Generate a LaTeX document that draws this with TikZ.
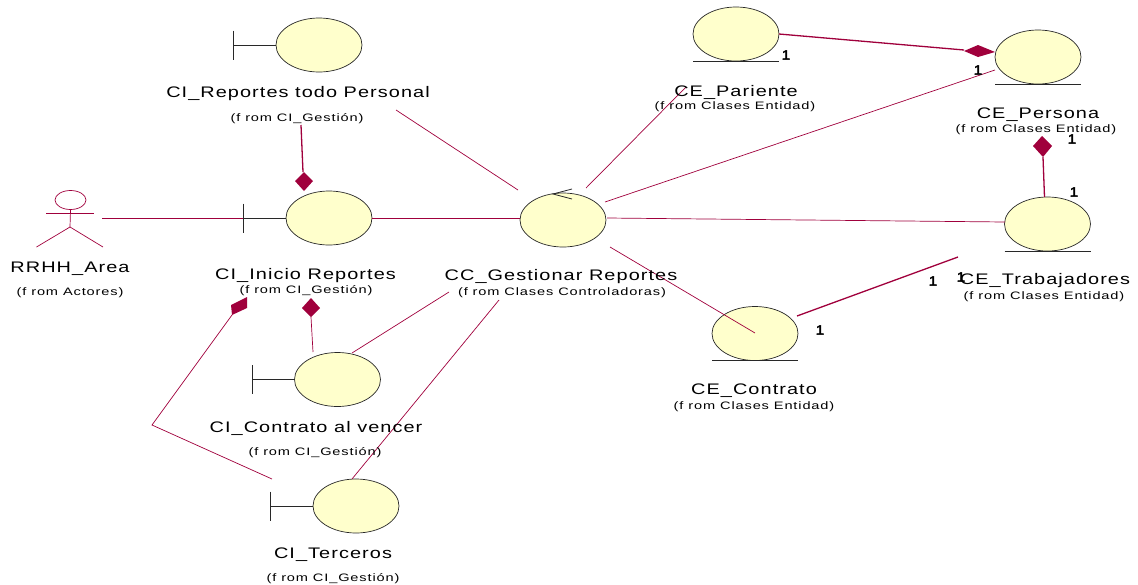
\documentclass[tikz,border=0pt]{standalone}
\usepackage{fontspec}
\usetikzlibrary{shapes.geometric}
\setmainfont{Liberation Sans}
\newfontfamily\namefont{Liberation Sans}[FakeStretch=1.3,LetterSpace=7]
\newfontfamily\fromfont{Liberation Sans}[FakeStretch=1.35,LetterSpace=8]
\newfontfamily\onefont{Liberation Sans}[FakeBold=2.5,FakeStretch=1.15]
\definecolor{umlline}{RGB}{160,0,60}
\definecolor{umlfill}{RGB}{255,255,204}
\definecolor{umledge}{RGB}{40,40,40}
\tikzset{
  x=1pt,y=-1pt,
  ball/.style={ellipse,draw=umledge,fill=umlfill,line width=0.7pt,minimum width=86pt,minimum height=54pt,inner sep=0pt,outer sep=0pt},
  glyph/.style={draw=umledge,line width=0.8pt},
  assoc/.style={draw=umlline,line width=0.7pt},
  heavy/.style={draw=umlline,line width=1.3pt},
  nametext/.style={font=\namefont\fontsize{15.3}{17}\selectfont,text=black,inner sep=0pt,yshift=-1pt},
  fromtext/.style={font=\fromfont\fontsize{10.8}{12}\selectfont,text=black,inner sep=0pt,yshift=-0.5pt},
  multtext/.style={font=\onefont\fontsize{13.5}{15}\selectfont,text=black,inner sep=0pt},
  dia/.style={fill=umlline,draw=none}
}
\begin{document}
\begin{tikzpicture}
\useasboundingbox (0,0) rectangle (1138,584);
% entities and boundaries
\node[ball] (rep) at (319,45) {};
\node[ball] (ini) at (329,218) {};
\node[ball] (con) at (337.5,379.5) {};
\node[ball] (ter) at (356,506) {};
\node[ball] (cc) at (563,220) {};
\node[ball] (par) at (736,34) {};
\node[ball] (per) at (1038,57) {};
\node[ball] (tra) at (1047.5,224) {};
\node[ball] (ctr) at (755,333.5) {};
% boundary glyphs
\coordinate (repb) at (233.5,45);
\coordinate (inib) at (243,218);
\coordinate (conb) at (252,379.5);
\coordinate (terb) at (270,506);
\foreach \b/\e in {repb/rep,inib/ini,conb/con,terb/ter}{
  \draw[glyph] (\b) -- (\e.west);
  \draw[glyph] ([yshift=14.5pt]\b) -- ([yshift=-14.5pt]\b);
}
% entity underlines
\foreach \e in {par,per,tra,ctr}{
  \draw[glyph] ([xshift=-43pt]\e.south) -- ([xshift=43pt]\e.south);
}
% controller arrow
\coordinate (ccarrow) at (553,194);
\draw[glyph] (572,189) -- (ccarrow) -- (572,199);
% actor
\node[draw=umlline,ellipse,line width=0.7pt,minimum width=31pt,minimum height=19pt,inner sep=0pt,outer sep=0pt] (head) at (70.5,200) {};
\coordinate (hip) at (70,227);
\coordinate (armL) at (46,213.5);
\coordinate (armR) at (94,213.5);
\coordinate (legL) at (36.5,247);
\coordinate (legR) at (103,247);
\draw[assoc] (head.south) -- (hip);
\draw[assoc] (armL) -- (armR);
\draw[assoc] (legL) -- (hip) -- (legR);
% free ends of connectors
\coordinate (a1) at (102,218);
\coordinate (r1) at (396,110);
\coordinate (r2) at (518,190);
\coordinate (p1) at (586,188);
\coordinate (p2) at (686,87);
\coordinate (q1) at (605,202);
\coordinate (q2) at (995,70);
\coordinate (t1) at (607,218);
\coordinate (t2) at (1005,222);
\coordinate (c1) at (610,247);
\coordinate (c2) at (755,333);
\coordinate (h1) at (797,316);
\coordinate (h2) at (958,257);
\coordinate (v1) at (352,353);
\coordinate (v2) at (449,292);
\coordinate (w1) at (352,479);
\coordinate (w2) at (499,300);
\coordinate (k1) at (272,479);
\coordinate (k2) at (152,425);
\coordinate (k3) at (232,315);
% associations
\draw[assoc] (a1) -- (inib);
\draw[assoc] (ini.east) -- (cc.west |- ini.east);
\draw[assoc] (r1) -- (r2);
\draw[assoc] (p1) -- (p2);
\draw[assoc] (q1) -- (q2);
\draw[assoc] (t1) -- (t2);
\draw[assoc] (c1) -- (c2);
\draw[heavy] (h1) -- (h2);
\draw[assoc] (v1) -- (v2);
\draw[assoc] (w1) -- (w2);
\draw[assoc] (k1) -- (k2) -- (k3);
% aggregations
\draw[heavy] (301,125) -- (303,172);
\fill[dia] (304,172) -- (313,181) -- (304,191) -- (295,181) -- cycle;
\draw[heavy] (par.east) -- (964,50);
\fill[dia] (964,51) -- (978,45) -- (995,52) -- (978,57) -- cycle;
\draw[heavy] (1044.5,197) -- (1043,157);
\fill[dia] (1042,136) -- (1052,146) -- (1043,157) -- (1033,146) -- cycle;
\draw[assoc] (313,352) -- (311,317);
\fill[dia] (311,298) -- (320,308) -- (311,317) -- (302,308) -- cycle;
\fill[dia] (231,305) -- (247,297) -- (247,308) -- (232,315) -- cycle;
% labels
\node[nametext] (l1) at (298,93) {CI\_Reportes todo Personal};
\node[fromtext] (l2) at (297,118) {(f rom CI\_Gestión)};
\node[nametext] (l3) at (305.5,275) {CI\_Inicio Reportes};
\node[fromtext] (l4) at (306,290) {(f rom CI\_Gestión)};
\node[nametext] (l5) at (70,268) {RRHH\_Area};
\node[fromtext] (l6) at (70,292) {(f rom Actores)};
\node[nametext] (l7) at (561,276) {CC\_Gestionar Reportes};
\node[fromtext] (l8) at (562,292) {(f rom Clases Controladoras)};
\node[nametext] (l9) at (736,91) {CE\_Pariente};
\node[fromtext] (l10) at (735,106) {(f rom Clases Entidad)};
\node[nametext] (l11) at (1038,114) {CE\_Persona};
\node[fromtext] (l12) at (1036,129) {(f rom Clases Entidad)};
\node[nametext] (l13) at (1045,280) {CE\_Trabajadores};
\node[fromtext] (l14) at (1044,296) {(f rom Clases Entidad)};
\node[nametext] (l15) at (754,390) {CE\_Contrato};
\node[fromtext] (l16) at (754,406) {(f rom Clases Entidad)};
\node[nametext] (l17) at (316,427) {CI\_Contrato al vencer};
\node[fromtext] (l18) at (315,452) {(f rom CI\_Gestión)};
\node[nametext] (l19) at (333,554) {CI\_Terceros};
\node[fromtext] (l20) at (333,578) {(f rom CI\_Gestión)};
% multiplicities
\node[multtext] (m1) at (786,55) {1};
\node[multtext] (m2) at (978,70) {1};
\node[multtext] (m3) at (1072,139) {1};
\node[multtext] (m4) at (1074,192) {1};
\node[multtext] (m5) at (933,281) {1};
\node[multtext] (m6) at (961,277) {1};
\node[multtext] (m7) at (820,330) {1};
\end{tikzpicture}
\end{document}
